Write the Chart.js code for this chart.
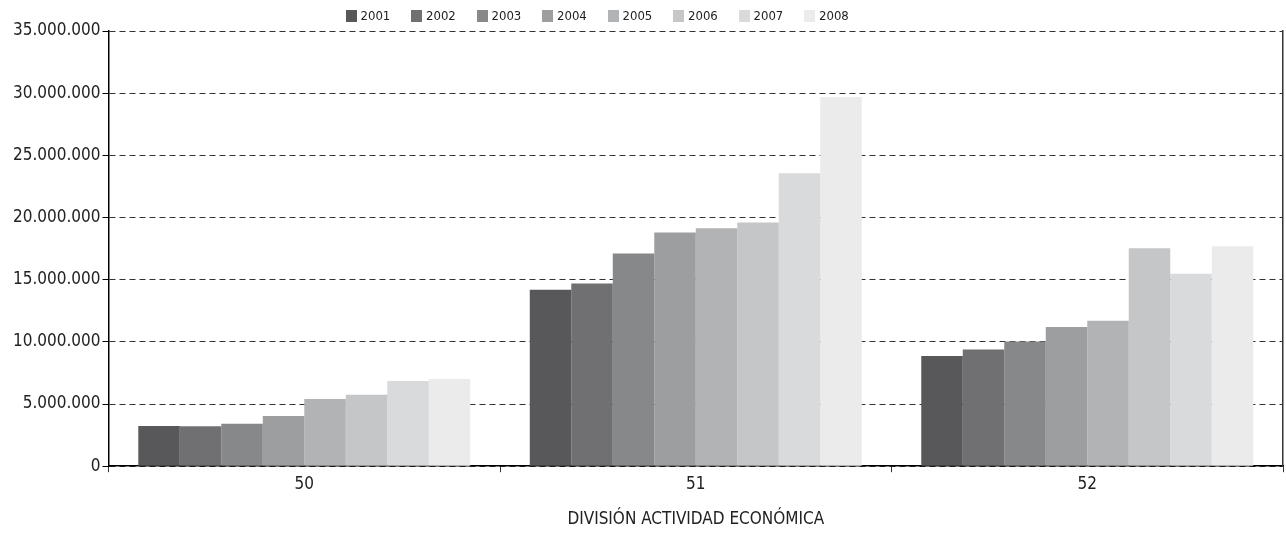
<!DOCTYPE html>
<html>
<head>
<meta charset="utf-8">
<script src="https://cdn.jsdelivr.net/npm/chart.js@4/dist/chart.umd.min.js"></script>
<style>
  html, body { margin: 0; padding: 0; background: #fff; }
  #wrap { position: relative; width: 1286px; height: 533px; }
  #c { position: absolute; left: 0; top: 0; }
  #legend { position: absolute; left: 0; top: 0; width: 1286px; height: 30px; }
  .lg-item { position: absolute; top: 9px; height: 14px; font: 13px 'DejaVu Sans Condensed', sans-serif; color: #222; line-height: 14px; white-space: nowrap; }
  .lg-box { display: inline-block; width: 11px; height: 12px; vertical-align: top; margin: 1px 4px 0 0; }
</style>
</head>
<body>
<div id="wrap">
  <canvas id="c" width="1286" height="533"></canvas>
  <div id="legend"></div>
</div>
<script>
const divisions = ['50', '51', '52'];
const years = ['2001', '2002', '2003', '2004', '2005', '2006', '2007', '2008'];
const yearColors = ['#58585a', '#707072', '#878889', '#9d9e9f', '#b2b3b4', '#c5c6c7', '#d9dadb', '#eaebea'];

// valores por año: [div 50, div 51, div 52]
const v2001 = [3230000, 14190000, 8870000];
const v2002 = [3220000, 14700000, 9380000];
const v2003 = [3410000, 17100000, 10030000];
const v2004 = [4030000, 18790000, 11200000];
const v2005 = [5400000, 19140000, 11690000];
const v2006 = [5750000, 19600000, 17530000];
const v2007 = [6850000, 23550000, 15480000];
const v2008 = [7020000, 29700000, 17690000];
const series = [v2001, v2002, v2003, v2004, v2005, v2006, v2007, v2008];

const FONT = "'DejaVu Sans Condensed', sans-serif";
const fmt = v => String(v).replace(/\B(?=(\d{3})+(?!\d))/g, '.');

// leyenda en HTML, espaciado fijo como en el original
const lg = document.getElementById('legend');
years.forEach((y, i) => {
  const it = document.createElement('div');
  it.className = 'lg-item';
  it.style.left = (345.5 + 65.5 * i) + 'px';
  it.innerHTML = `<span class="lg-box" style="background:${yearColors[i]}"></span>${y}`;
  lg.appendChild(it);
});

new Chart(document.getElementById('c'), {
  type: 'bar',
  data: {
    labels: divisions,
    datasets: years.map((y, i) => ({
      label: y,
      data: series[i],
      backgroundColor: yearColors[i],
      borderWidth: 0,
      barPercentage: 1,
      categoryPercentage: 0.848
    }))
  },
  options: {
    responsive: false,
    animation: false,
    layout: { padding: { left: 11, right: 3, top: 31, bottom: 3 } },
    plugins: {
      tooltip: { enabled: false },
      legend: { display: false }
    },
    scales: {
      x: {
        offset: true,
        grid: { offset: true, drawOnChartArea: false, tickLength: 6, color: '#000', tickColor: '#333' },
        border: { color: '#000', width: 1.5 },
        ticks: { color: '#222', font: { family: FONT, size: 17 }, padding: 2 },
        title: { display: true, text: 'DIVISIÓN ACTIVIDAD ECONÓMICA', color: '#222', font: { family: FONT, size: 17 }, padding: { top: 13, bottom: 0 } }
      },
      y: {
        min: 0, max: 35000000,
        ticks: { stepSize: 5000000, color: '#222', font: { family: FONT, size: 17 }, padding: 2, callback: v => fmt(v) },
        grid: { color: '#333', lineWidth: 1, tickLength: 6, tickColor: '#000', tickBorderDash: [] },
        border: { color: '#000', width: 1.5, dash: [6, 4] }
      },
      yRight: {
        position: 'right',
        min: 0, max: 35000000,
        ticks: { display: false },
        grid: { drawOnChartArea: false, drawTicks: false },
        border: { color: '#333', width: 1.5 }
      }
    }
  }
});
</script>
</body>
</html>
